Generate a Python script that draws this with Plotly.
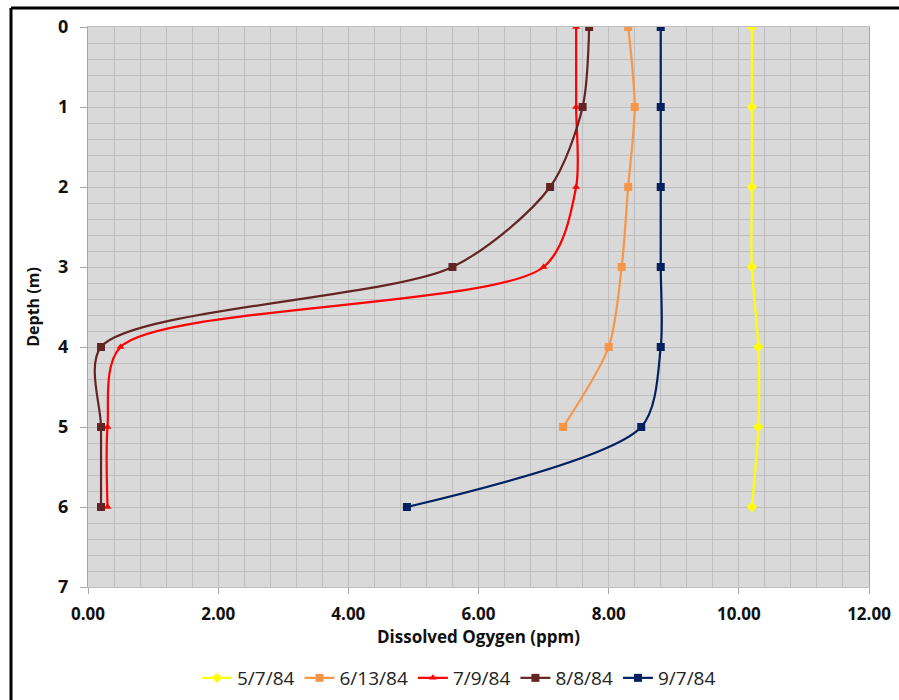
import plotly.graph_objects as go

depth = [0, 1, 2, 3, 4, 5, 6]
series_names = ["5/7/84", "6/13/84", "7/9/84", "8/8/84", "9/7/84"]
do_0507 = [10.2, 10.2, 10.2, 10.2, 10.3, 10.3, 10.2]
do_0613 = [8.3, 8.4, 8.3, 8.2, 8.0, 7.3]
do_0709 = [7.5, 7.5, 7.5, 7.0, 0.5, 0.3, 0.3]
do_0808 = [7.7, 7.6, 7.1, 5.6, 0.2, 0.2, 0.2]
do_0907 = [8.8, 8.8, 8.8, 8.8, 8.8, 8.5, 4.9]
x_ticks = [0, 2, 4, 6, 8, 10, 12]
y_ticks = [0, 1, 2, 3, 4, 5, 6, 7]

colors = ["#FFFF00", "#F79646", "#FF0000", "#632523", "#002060"]
symbols = ["diamond", "square", "triangle-up", "square", "square"]
sizes = [8, 8, 7, 8, 8]
values = [do_0507, do_0613, do_0709, do_0808, do_0907]

fig = go.Figure()
for name, vals, c, s, sz in zip(series_names, values, colors, symbols, sizes):
    fig.add_trace(go.Scatter(
        x=vals, y=depth[:len(vals)], name=name, mode="lines+markers",
        line=dict(color=c, width=2.2, shape="spline", smoothing=0.8),
        marker=dict(color=c, symbol=s, size=sz),
        cliponaxis=True,
    ))

font_family = "'Open Sans', Lato, sans-serif"
grid = "#BFBFBF"

fig.update_layout(
    width=899, height=700,
    margin=dict(l=88, r=30, t=27, b=113, autoexpand=False),
    paper_bgcolor="white",
    plot_bgcolor="#D9D9D9",
    font=dict(family=font_family, color="#000000"),
    showlegend=True,
    legend=dict(orientation="h", x=0.475, xanchor="center", y=-0.1625, yanchor="middle",
                font=dict(size=19, color="#222222", family=font_family),
                itemwidth=30, traceorder="normal"),
    xaxis=dict(
        range=[0, 12], tickvals=x_ticks, tickformat=".2f",
        ticks="outside", ticklen=6, tickcolor="#A6A6A6",
        ticklabelstandoff=6, automargin=False,
        showgrid=True, gridcolor=grid, gridwidth=1,
        minor=dict(dtick=0.4, showgrid=True, gridcolor=grid, gridwidth=1),
        showline=True, linecolor="#BFBFBF", mirror=True,
        zeroline=False,
        tickfont=dict(size=17, family=font_family, color="#111111", weight="bold"),
        title=dict(text="<b>Dissolved Ogygen (ppm)</b>", font=dict(size=17, color="#111111"), standoff=6),
    ),
    yaxis=dict(
        range=[7, 0], tickvals=y_ticks,
        ticks="outside", ticklen=7, tickcolor="#A6A6A6",
        ticklabelstandoff=8, automargin=False,
        showgrid=True, gridcolor=grid, gridwidth=1,
        minor=dict(dtick=0.2, showgrid=True, gridcolor=grid, gridwidth=1),
        showline=True, linecolor="#A6A6A6", mirror=True,
        zeroline=False,
        tickfont=dict(size=18, family=font_family, color="#111111", weight="bold"),
        title=dict(text="<b>Depth (m)</b>", font=dict(size=16, color="#111111"), standoff=14),
    ),
    shapes=[
        dict(type="line", xref="paper", yref="paper", x0=-0.0986, x1=-0.0986, y0=1.034, y1=-0.25,
             line=dict(color="black", width=3)),
        dict(type="line", xref="paper", yref="paper", x0=-0.0986, x1=1.06, y0=1.034, y1=1.034,
             line=dict(color="black", width=3)),
    ],
)

fig.write_html("out.html")
